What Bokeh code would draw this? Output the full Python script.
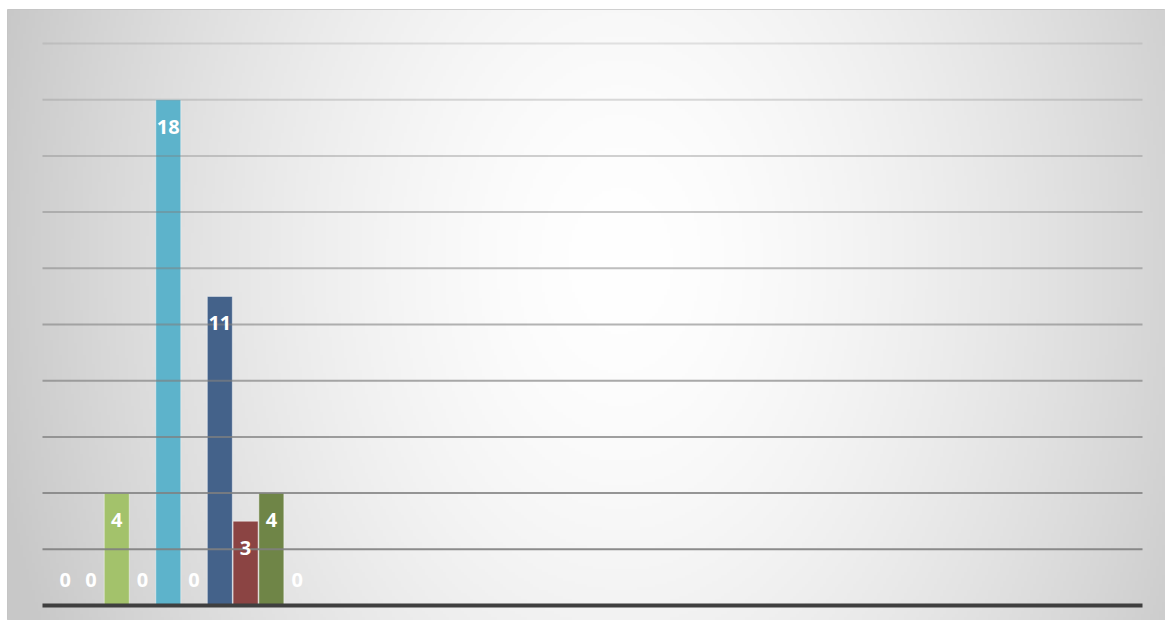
import numpy as np
from bokeh.plotting import figure
from bokeh.models import ColumnDataSource, Range1d
from bokeh.core.properties import value
from bokeh.embed import file_html
from bokeh.resources import INLINE

# ---- data ----
series_index = [0, 1, 2, 3, 4, 5, 6, 7, 8, 9]
series_values = [0, 0, 4, 0, 18, 0, 11, 3, 4, 0]
series_colors = ["#4F81BD", "#C0504D", "#A3C26B", "#8064A2", "#5DB3CB",
                 "#F79646", "#44628A", "#8B4443", "#6F8547", "#4BACC6"]
grid_values = [2, 4, 6, 8, 10, 12, 14, 16, 18, 20]

# ---- layout ----
W, H = 1165, 620
BL, BT = 7, 9                 # white strip left / top
FW, FH = W - BL, H - BT       # frame size
PX_X = 25.77                  # pixels per category
PX_Y = 28.1                   # pixels per unit value
X0_PX = 64.7 - BL             # x=0 from frame left
Y0_PX = H - 605.0             # y=0 from frame bottom
xs = -X0_PX / PX_X
xe = xs + FW / PX_X
ys = -Y0_PX / PX_Y
ye = ys + FH / PX_Y
gx0 = (42 - BL - X0_PX) / PX_X
gx1 = (1142 - BL - X0_PX) / PX_X

p = figure(width=W, height=H, x_range=Range1d(xs, xe), y_range=Range1d(ys, ye),
           output_backend="svg", toolbar_location=None,
           min_border_left=BL, min_border_top=BT, min_border_right=0,
           min_border_bottom=0,
           x_axis_location=None, y_axis_location=None)
p.grid.visible = False
p.outline_line_color = "#c4c4c4"
p.background_fill_color = "#d8d8d8"
p.border_fill_color = "white"

# background radial gradient
nx, ny = FW // 3, FH // 3
gxp = (np.arange(nx) + 0.5) * FW / nx
gyp = (np.arange(ny) + 0.5) * FH / ny
GX, GY = np.meshgrid(gxp, gyp)
cx, cyb = 620.0 - BL, FH - (260.0 - BT)
t = np.sqrt(((GX - cx) / 640.0) ** 2 + ((GY - cyb) / 900.0) ** 2)
v = (255 - 55 * np.clip(t, 0, 1) ** 1.6).astype(np.uint8)
img = np.empty((ny, nx), dtype=np.uint32)
view = img.view(dtype=np.uint8).reshape((ny, nx, 4))
view[..., 0] = v
view[..., 1] = v
view[..., 2] = v
view[..., 3] = 255
p.image_rgba(image=[img], x=xs, y=ys, dw=xe - xs, dh=ye - ys)

# bars
vals = np.array(series_values, dtype=float)
src = ColumnDataSource(dict(
    x=series_index, top=series_values, color=series_colors,
    label=[str(s) for s in series_values],
    ly=np.where(vals > 0, vals - 0.96, 0.89),
))
p.vbar(x="x", top="top", bottom=0, width=0.97, source=src,
       fill_color="color", line_color="white", line_alpha=0.45, line_width=1)

# gridlines (semi-transparent, darker toward the bottom)
galpha = [0.9 - 0.7 * (g - 2) / 18 for g in grid_values]
gsrc = ColumnDataSource(dict(y=grid_values, a=galpha))
p.segment(x0=gx0, x1=gx1, y0="y", y1="y", source=gsrc,
          line_color="#7f7f7f", line_alpha="a", line_width=2)

# baseline
p.segment(x0=[gx0], x1=[gx1], y0=[0], y1=[0], line_color="#3f3f3f", line_width=4)

# labels
p.text(x="x", y="ly", text="label", source=src, text_color="white",
       text_font=value("Open Sans"), text_font_style="bold",
       text_font_size="20px", text_align="center", text_baseline="middle")

open("out.html", "w").write(file_html(p, INLINE))
